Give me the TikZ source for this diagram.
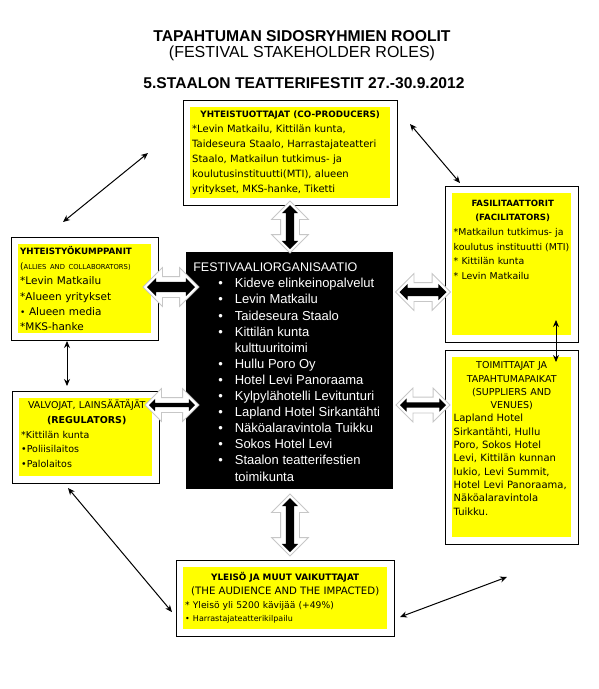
\documentclass[tikz,border=0pt]{standalone}
\usepackage{fontspec}
\setmainfont{Liberation Sans}
\newfontfamily\boxfont{DejaVu Sans}
\usepackage{tikz}
\usetikzlibrary{positioning}
\usetikzlibrary{calc}
\usetikzlibrary{arrows.meta}
\usetikzlibrary{shapes.arrows}
\usetikzlibrary{fit}
\usetikzlibrary{backgrounds}

\definecolor{panelyellow}{RGB}{255,255,0}
\newcommand{\fsz}[2]{\fontsize{#1}{#2}\selectfont}
\newcommand{\ptitle}[1]{\makebox[\linewidth][c]{#1}}

\tikzset{
	panel/.style={fill=panelyellow, inner sep=0pt, anchor=north west},
	paneltext/.style={anchor=north west, inner sep=2pt, align=left},
	frame/.style={draw=black, line width=0.8pt, fill=white, inner sep=6.5pt},
	link/.style={{Stealth[length=7pt,width=6pt]}-{Stealth[length=7pt,width=6pt]}, line width=1pt},
	blockarrow/.style={double arrow, fill=black, inner sep=0pt, double arrow head extend=4pt},
	arrowglow/.style={double arrow, fill=white, draw=black!22, line width=0.8pt, inner sep=0pt}
}

\begin{document}
\begin{tikzpicture}[x=1pt, y=-1pt]

\useasboundingbox (0,0) rectangle (598,689);

\node[font=\bfseries\fsz{15.7}{18}] (title) at (302,36) {TAPAHTUMAN SIDOSRYHMIEN ROOLIT};
\node[font=\fsz{16}{18}] (subtitle) at (302,53) {(FESTIVAL STAKEHOLDER ROLES)};
\node[font=\bfseries\fsz{15.6}{18}] (festname) at (304,83) {5.STAALON TEATTERIFESTIT 27.-30.9.2012};

% yellow panels
\node[panel, minimum width=200pt, minimum height=91pt] (coprod) at (190,107) {};
\node[panel, minimum width=133pt, minimum height=89pt] (allies) at (18,244) {};
\node[panel, minimum width=133pt, minimum height=78pt] (regul) at (19,398) {};
\node[panel, minimum width=119pt, minimum height=142pt] (facil) at (452,193) {};
\node[panel, minimum width=119pt, minimum height=180pt] (suppl) at (452,357) {};
\node[panel, minimum width=204pt, minimum height=62pt] (audience) at (183,567) {};

\begin{scope}[on background layer]
	\fill[white] (0,0) rectangle (598,689);
	\foreach \p in {coprod, allies, regul, facil, suppl, audience}
		\node[frame, fit=(\p)] (\p box) {};
\end{scope}

\node[
	paneltext,
	yshift=-1.5pt,
	text width=196pt,
	font={\boxfont\fsz{10}{15}}
] (coprodtext) at (coprod.north west) {%
	\ptitle{\bfseries\fsz{8.8}{15}YHTEISTUOTTAJAT (CO-PRODUCERS)}\\
	{*}Levin Matkailu, Kittilän kunta,\\
	Taideseura Staalo, Harrastajateatteri\\
	Staalo, Matkailun tutkimus- ja\\
	koulutusinstituutti(MTI), alueen\\
	yritykset, MKS-hanke, Tiketti};

\node[
	paneltext,
	text width=131pt,
	font={\boxfont\fsz{10.5}{15.3}}
] (alliestext) at (allies.north west) {%
	{\bfseries\fsz{8.7}{15.3}YHTEISTYÖKUMPPANIT}\\
	{\fsz{9}{15.3}(}{\fsz{6.8}{15.3}ALLIES AND COLLABORATORS)}\\
	{*}Levin Matkailu\\
	{*}Alueen yritykset\\
	{\fsz{9}{15.3}•} Alueen media\\
	{*}MKS-hanke};

\node[
	paneltext,
	text width=131pt,
	font={\boxfont\fsz{9.5}{14.7}}
] (regultext) at (regul.north west) {%
	\ptitle{VALVOJAT, LAINSÄÄTÄJÄT}\\
	\ptitle{\bfseries (REGULATORS)}\\
	{*}Kittilän kunta\\
	•Poliisilaitos\\
	•Palolaitos};

\node[
	paneltext,
	yshift=-5pt,
	inner sep=1.5pt,
	text width=118pt,
	font={\boxfont\fsz{9.4}{14.7}}
] (faciltext) at (facil.north west) {%
	\ptitle{\bfseries\fsz{8.6}{14.7}FASILITAATTORIT}\\
	\ptitle{\bfseries\fsz{8.6}{14.7}(FACILITATORS)}\\
	{*}Matkailun tutkimus- ja\\
	koulutus instituutti (MTI)\\
	{*} Kittilän kunta\\
	{*} Levin Matkailu};

\node[
	paneltext,
	yshift=-3pt,
	inner sep=1.5pt,
	text width=116pt,
	font={\boxfont\fsz{10}{13.3}}
] (suppltext) at (suppl.north west) {%
	\ptitle{\fsz{9.5}{13.3}TOIMITTAJAT JA}\\
	\ptitle{\fsz{9.5}{13.3}TAPAHTUMAPAIKAT}\\
	\ptitle{\fsz{9.5}{13.3}(SUPPLIERS AND}\\
	\ptitle{\fsz{9.5}{13.3}VENUES)}\\
	Lapland Hotel\\
	Sirkantähti, Hullu\\
	Poro, Sokos Hotel\\
	Levi, Kittilän kunnan\\
	lukio, Levi Summit,\\
	Hotel Levi Panoraama,\\
	Näköalaravintola\\
	Tuikku.};

\node[
	paneltext,
	yshift=-3pt,
	text width=200pt,
	font={\boxfont\fsz{9.2}{13.8}}
] (audiencetext) at (audience.north west) {%
	\ptitle{\bfseries\fsz{8.85}{13.8}YLEISÖ JA MUUT VAIKUTTAJAT}\\
	\ptitle{\fsz{10.2}{13.8}(THE AUDIENCE AND THE IMPACTED)}\\
	{*} Yleisö yli 5200 kävijää (+49\%)\\
	{\fsz{8}{13.8}• Harrastajateatterikilpailu}};

% festival organisation
\node[
	fill=black,
	text=white,
	minimum width=207pt,
	minimum height=237pt,
	inner sep=0pt,
	anchor=north west,
	font=\fsz{13}{16.1}
] (festorg) at (186,252) {%
	\raisebox{-2.5pt}[\height][\depth]{%
	\begin{tabular}{@{\hspace{25pt}}c@{\hspace{12pt}}l}
	\multicolumn{2}{@{}l}{\fsz{12.5}{16.1}FESTIVAALIORGANISAATIO}\\
	\textbullet & Kideve elinkeinopalvelut\\
	\textbullet & Levin Matkailu\\
	\textbullet & Taideseura Staalo\\
	\textbullet & Kittilän kunta\\
	 & kulttuuritoimi\\
	\textbullet & Hullu Poro Oy\\
	\textbullet & Hotel Levi Panoraama\\
	\textbullet & Kylpylähotelli Levitunturi\\
	\textbullet & Lapland Hotel Sirkantähti\\
	\textbullet & Näköalaravintola Tuikku\\
	\textbullet & Sokos Hotel Levi\\
	\textbullet & Staalon teatterifestien\\
	 & toimikunta
	\end{tabular}}};

% block arrows
\foreach \px/\py/\ang/\len/\shaft [count=\i] in {290/227/90/44/8, 171/287/0/48/10, 172/405/0/46/4, 423/292/0/47/8, 423/405/0/46/5, 290/525/90/54/8} {
	\pgfmathsetmacro{\hsh}{\shaft/2}
	\pgfmathsetmacro{\glen}{\len+8}
	\pgfmathsetmacro{\gsh}{\shaft/2+5}
	\node[arrowglow, rotate=\ang, minimum height=\glen pt, inner ysep=\gsh pt, double arrow head extend=9pt] (glow\i) at (\px,\py) {};
	\node[blockarrow, rotate=\ang, minimum height=\len pt, inner ysep=\hsh pt] (barrow\i) at (\px,\py) {};
}

% thin links
\coordinate (tlA) at (63,222);
\coordinate (tlB) at (148,153);
\coordinate (trA) at (410,124);
\coordinate (trB) at (460,183);
\coordinate (lvA) at (67,341);
\coordinate (lvB) at (67,386);
\coordinate (rvA) at (556,320);
\coordinate (rvB) at (556,362);
\coordinate (blA) at (68,488);
\coordinate (blB) at (172,612);
\coordinate (brA) at (507,577);
\coordinate (brB) at (400,617);

\draw[link] (tlA) -- (tlB);
\draw[link] (trA) -- (trB);
\draw[link] (lvA) -- (lvB);
\draw[link] (rvA) -- (rvB);
\draw[link] (blA) -- (blB);
\draw[link] (brA) -- (brB);

\end{tikzpicture}
\end{document}
